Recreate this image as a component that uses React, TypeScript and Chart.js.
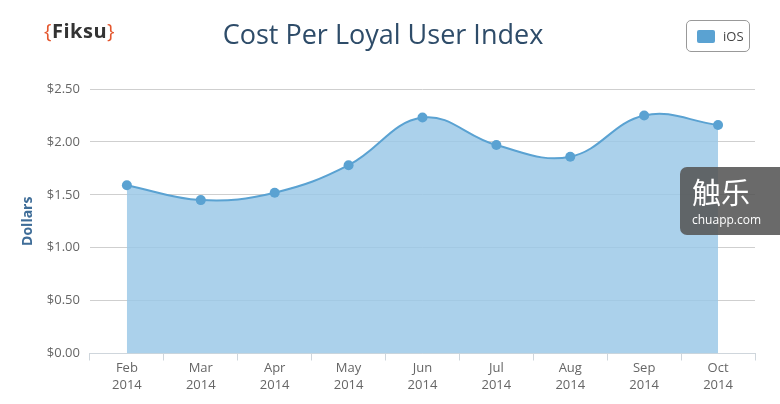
import React, { useEffect, useRef } from "react";
import { Chart, registerables } from "chart.js";

Chart.register(...registerables);

const months = ["Feb", "Mar", "Apr", "May", "Jun", "Jul", "Aug", "Sep", "Oct"];
const years = ["2014", "2014", "2014", "2014", "2014", "2014", "2014", "2014", "2014"];
const iosValues = [1.59, 1.45, 1.52, 1.78, 2.23, 1.97, 1.86, 2.25, 2.16];
const yTicks = [0, 0.5, 1.0, 1.5, 2.0, 2.5];

export default function App() {
  const ref = useRef<HTMLCanvasElement | null>(null);

  useEffect(() => {
    if (!ref.current) return;
    const chart = new Chart(ref.current, {
      type: "line",
      data: {
        labels: months.map((m, i) => [m, years[i]]),
        datasets: [
          {
            label: "iOS",
            data: iosValues,
            borderColor: "#5aa2d2",
            backgroundColor: "rgba(153,199,230,0.82)",
            fill: "origin",
            tension: 0.4,
            borderWidth: 2,
            pointRadius: 5,
            pointBackgroundColor: "#5aa2d2",
            pointBorderColor: "#5aa2d2",
            pointBorderWidth: 0,
          },
        ],
      },
      options: {
        responsive: false,
        animation: false,
        layout: { padding: { top: 89, right: 25, left: 16, bottom: 11 } },
        plugins: {
          legend: { display: false },
          tooltip: { enabled: false },
          title: { display: false },
        },
        scales: {
          x: {
            offset: true,
            grid: {
              offset: true,
              drawOnChartArea: false,
              drawTicks: true,
              tickLength: 7,
              color: "#cfd6dc",
            },
            border: { display: true, color: "#cfd6dc", width: 1 },
            ticks: {
              color: "#666",
              font: { family: "Open Sans", size: 13, lineHeight: 1.25 },
              padding: 0,
              maxRotation: 0,
            },
          },
          y: {
            min: 0,
            max: 2.5,
            afterBuildTicks: (axis: any) => {
              axis.ticks = yTicks.map((v) => ({ value: v }));
            },
            grid: { color: "#cfcfcf", drawTicks: false, lineWidth: 1 },
            border: { display: false },
            ticks: {
              color: "#666",
              font: { family: "Open Sans", size: 13 },
              padding: 10,
              callback: (v: any) => "$" + Number(v).toFixed(2),
            },
            title: {
              display: true,
              text: "Dollars",
              color: "#3f6d98",
              font: { family: "Open Sans", size: 14, weight: "bold" },
              padding: { top: 4, bottom: 0 },
            },
          },
        },
      },
    });
    return () => chart.destroy();
  }, []);

  return (
    <div
      style={{
        position: "fixed",
        left: 0,
        top: 0,
        width: 780,
        height: 404,
        background: "#fff",
        overflow: "hidden",
      }}
    >
      <canvas ref={ref} width={780} height={404} style={{ position: "absolute", left: 0, top: 0 }} />
      <div
        style={{
          position: "absolute",
          left: 44,
          top: 17,
          fontFamily: "Open Sans",
          fontWeight: 700,
          fontSize: 20,
          color: "#333",
          letterSpacing: 0.5,
        }}
      >
        <span style={{ color: "#e4572e", fontWeight: 400 }}>{"{"}</span>
        Fiksu
        <span style={{ color: "#e4572e", fontWeight: 400 }}>{"}"}</span>
      </div>
      <div
        style={{
          position: "absolute",
          left: 0,
          width: 766,
          top: 15,
          textAlign: "center",
          fontFamily: "Open Sans",
          fontSize: 27,
          color: "#2e4c69",
        }}
      >
        Cost Per Loyal User Index
      </div>
      <div
        style={{
          position: "absolute",
          left: 686,
          top: 20,
          width: 64,
          height: 32,
          border: "1px solid #999",
          borderRadius: 5,
          boxSizing: "border-box",
          display: "flex",
          alignItems: "center",
          paddingLeft: 10,
          fontFamily: "Open Sans",
          fontSize: 13,
          color: "#444",
        }}
      >
        <span
          style={{
            display: "inline-block",
            width: 18,
            height: 13,
            background: "#5aa2d2",
            borderRadius: 2,
            marginRight: 8,
          }}
        />
        iOS
      </div>
      <div
        style={{
          position: "absolute",
          left: 680,
          top: 167,
          width: 110,
          height: 68,
          background: "rgba(85,85,85,0.88)",
          borderRadius: 7,
          color: "#fff",
          fontFamily: "Noto Sans CJK SC",
        }}
      >
        <div style={{ position: "absolute", left: 12, top: 6, fontSize: 29, lineHeight: "36px" }}>触乐</div>
        <div style={{ position: "absolute", left: 12, top: 44, fontSize: 12, fontFamily: "Open Sans" }}>
          chuapp.com
        </div>
      </div>
    </div>
  );
}
